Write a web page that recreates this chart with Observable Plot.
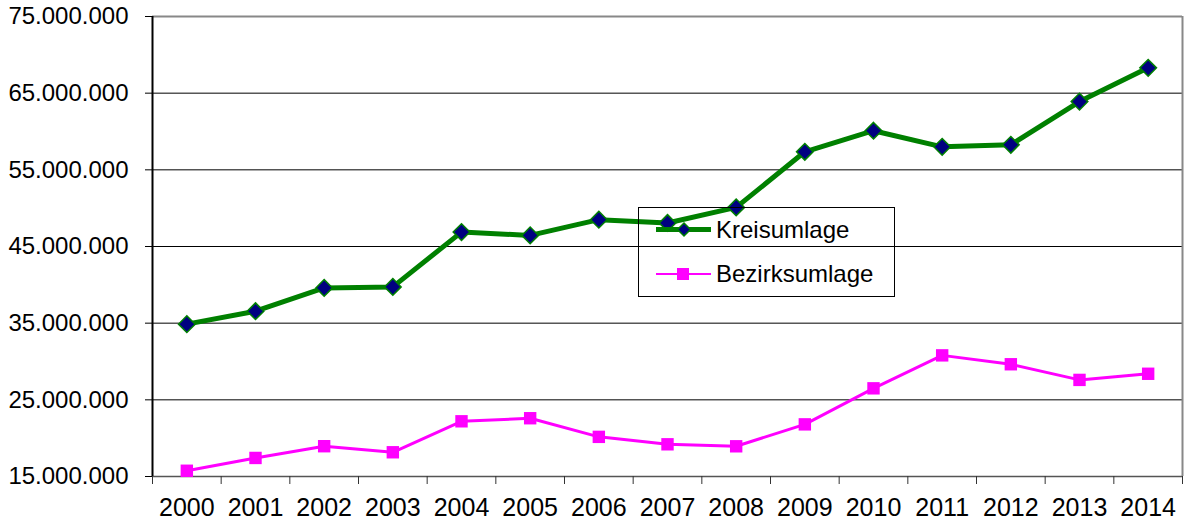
<!DOCTYPE html>
<html>
<head>
<meta charset="utf-8">
<script src="https://cdn.jsdelivr.net/npm/d3@7"></script>
<script src="https://cdn.jsdelivr.net/npm/@observablehq/plot@0.6"></script>
<style>
  html, body { margin: 0; padding: 0; background: #fff; }
  #wrap { position: relative; width: 1187px; height: 521px; font-family: "Liberation Sans", Arial, sans-serif; }
  #legend { position: absolute; left: 638px; top: 207px; }
</style>
</head>
<body>
<div id="wrap"></div>
<script>
const years = [2000, 2001, 2002, 2003, 2004, 2005, 2006, 2007, 2008, 2009, 2010, 2011, 2012, 2013, 2014];
const kreisumlage = [34870000, 36560000, 39600000, 39730000, 46880000, 46450000, 48500000, 48070000, 50100000, 57350000, 60100000, 58000000, 58270000, 63900000, 68300000];
const bezirksumlage = [15750000, 17420000, 18950000, 18160000, 22200000, 22600000, 20170000, 19200000, 18940000, 21800000, 26500000, 30800000, 29640000, 27600000, 28400000];
const yTicks = [15000000, 25000000, 35000000, 45000000, 55000000, 65000000, 75000000];
const seriesNames = ["Kreisumlage", "Bezirksumlage"];

const data = years.map((year, i) => ({ year, kreis: kreisumlage[i], bezirk: bezirksumlage[i] }));
const bounds = years.map(y => y - 0.5).concat([years[years.length - 1] + 0.5]);
const fmt = v => d3.format(",")(v).replace(/,/g, ".");

const chart = Plot.plot({
  width: 1187,
  height: 521,
  marginLeft: 152,
  marginRight: 5,
  marginTop: 16,
  marginBottom: 45,
  style: { fontFamily: "'Liberation Sans', Arial, sans-serif", fontSize: "24px", color: "#000", background: "#fff" },
  x: { domain: [bounds[0], bounds[bounds.length - 1]] },
  y: { domain: [yTicks[0], yTicks[yTicks.length - 1]] },
  marks: [
    Plot.gridY(yTicks, { stroke: "#000", strokeOpacity: 1, strokeWidth: 1 }),
    Plot.ruleY([yTicks[yTicks.length - 1]], { stroke: "#888", strokeWidth: 2 }),
    Plot.ruleY([yTicks[0]], { stroke: "#555", strokeWidth: 1.5 }),
    Plot.ruleX([bounds[bounds.length - 1]], { stroke: "#888", strokeWidth: 2 }),
    Plot.ruleX([bounds[0]], { stroke: "#000", strokeWidth: 2 }),
    Plot.axisY(yTicks, { tickFormat: fmt, tickSize: 7, tickPadding: 17, fontSize: 24, stroke: "#000", label: null }),
    Plot.axisX(bounds, { tickSize: 8, tickFormat: () => "", stroke: "#333", label: null }),
    Plot.axisX(years, { tickSize: 0, tickPadding: 22, tickFormat: d => String(d), fontSize: 25, label: null }),
    Plot.line(data, { x: "year", y: "bezirk", stroke: "#ff00ff", strokeWidth: 3 }),
    Plot.dot(data, { x: "year", y: "bezirk", symbol: "square", r: 7, fill: "#ff00ff" }),
    Plot.line(data, { x: "year", y: "kreis", stroke: "#008000", strokeWidth: 5 }),
    Plot.dot(data, { x: "year", y: "kreis", symbol: "diamond2", r: 7.5, fill: "#000080", stroke: "#008000", strokeWidth: 1.5 })
  ]
});
document.getElementById("wrap").appendChild(chart);

// legend
const legend = document.createElement("div");
legend.id = "legend";
legend.innerHTML = `
<svg width="257" height="90" xmlns="http://www.w3.org/2000/svg" style="font-family:'Liberation Sans', Arial, sans-serif;font-size:24px;overflow:visible">
  <rect x="0.5" y="0.5" width="256" height="89" fill="none" stroke="#000" stroke-width="1"/>
  <line x1="18" x2="73" y1="22.5" y2="22.5" stroke="#008000" stroke-width="5"/>
  <path d="M46,16L52.5,22.5L46,29L39.5,22.5Z" fill="#000080" stroke="#008000" stroke-width="1.5"/>
  <text x="78" y="30.5" fill="#000">${seriesNames[0]}</text>
  <line x1="18" x2="73" y1="67" y2="67" stroke="#ff00ff" stroke-width="2"/>
  <rect x="39" y="61" width="12" height="12" fill="#ff00ff"/>
  <text x="78" y="75" fill="#000">${seriesNames[1]}</text>
</svg>`;
document.getElementById("wrap").appendChild(legend);
</script>
</body>
</html>
